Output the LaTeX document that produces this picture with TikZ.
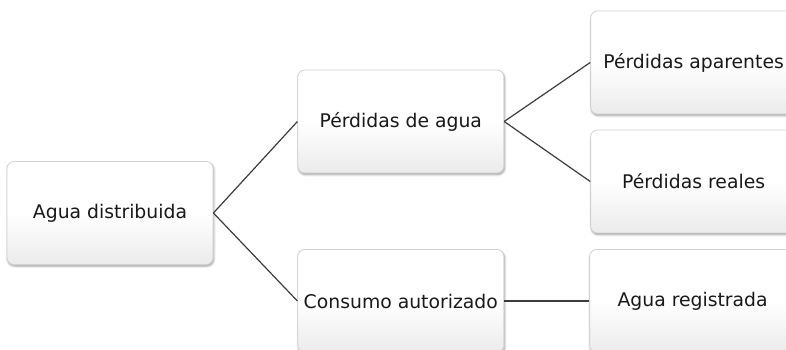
\documentclass[tikz,border=0pt]{standalone}
\usepackage{fontspec}
\setmainfont{DejaVu Sans}
\usepackage{tikz}
\usetikzlibrary{positioning,shadows.blur}

\definecolor{boxline}{HTML}{D2D2D2}
\definecolor{boxshade}{HTML}{EBEBEB}
\definecolor{linkgray}{HTML}{3C3C3C}

\begin{document}
\begin{tikzpicture}[
  x=1pt, y=1pt,
  box/.style={
    rectangle, rounded corners=7pt, draw=boxline, line width=0.8pt,
    minimum width=206pt, minimum height=103pt, inner sep=0pt,
    top color=white, bottom color=boxshade, middle color=white,
    blur shadow={shadow xshift=0.8pt, shadow yshift=-1.6pt, shadow blur steps=6},
    font=\fontsize{18.8}{22}\selectfont, text=black!90
  },
  link/.style={draw=linkgray, line width=1.2pt}
]
\useasboundingbox (0,0) rectangle (786,350);
\clip (0,0) rectangle (786,350);

% Level 1
\node[box] (b1) at (110,137) {Agua distribuida};

% Level 2
\node[box, right=84pt of b1, yshift=91.5pt] (b2) {Pérdidas de agua};
\node[box, right=84pt of b1, yshift=-88pt] (b5) {Consumo autorizado};

% Level 3
\node[box, right=86pt of b2, yshift=59pt] (b3) {Pérdidas aparentes};
\node[box, right=86pt of b2, yshift=-60pt] (b4) {Pérdidas reales};
\node[box, right=85pt of b5] (b6) {Agua registrada};

\draw[link] (b1.east) -- (b2.west);
\draw[link] (b1.east) -- (b5.west);
\draw[link] (b2.east) -- (b3.west);
\draw[link] (b2.east) -- (b4.west);
\draw[link] (b5.east) -- (b6.west);
\end{tikzpicture}
\end{document}
